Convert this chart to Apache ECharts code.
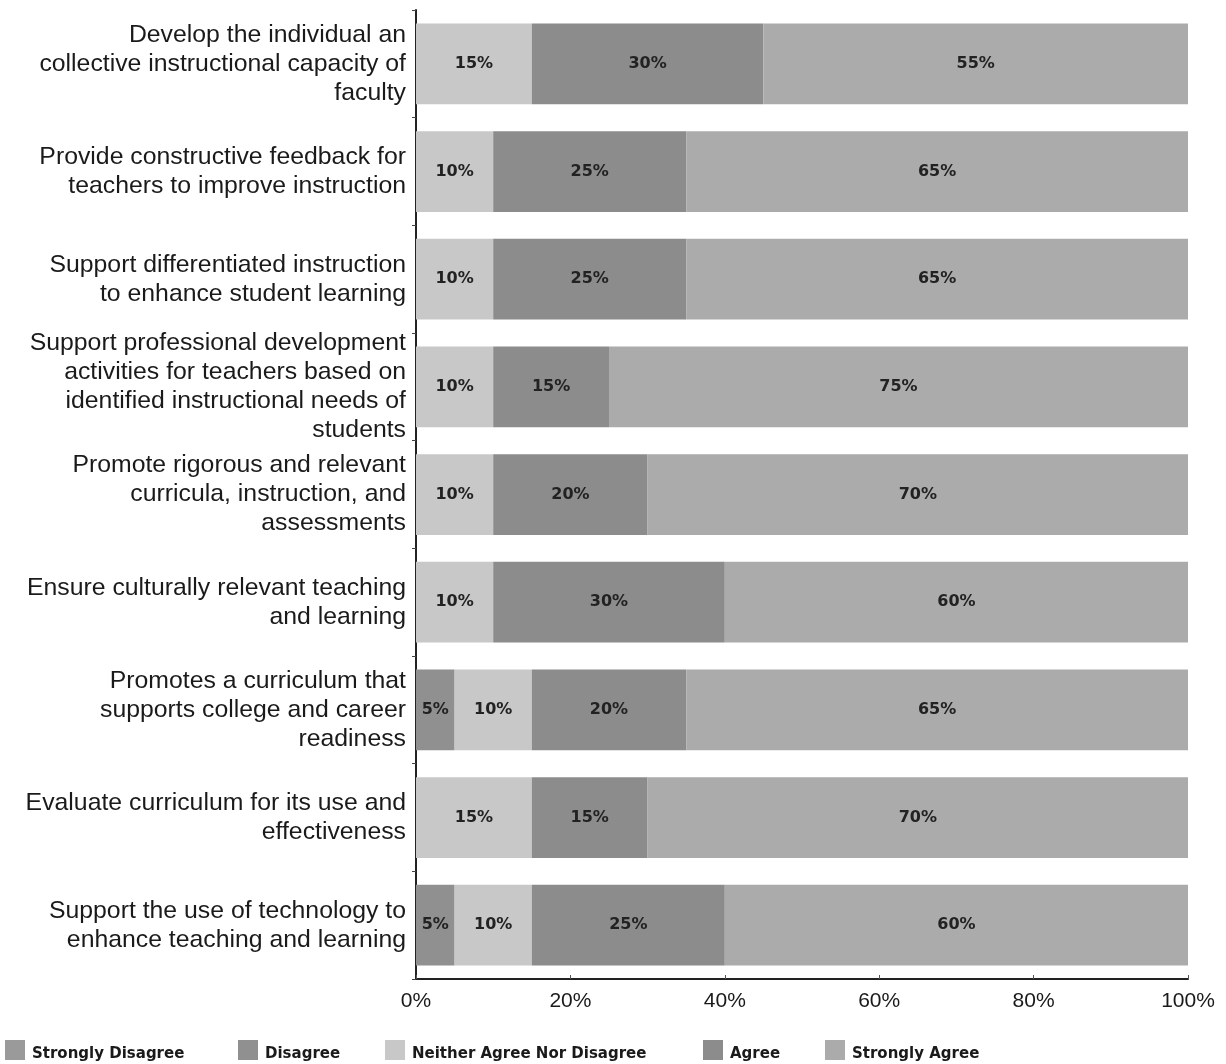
<!DOCTYPE html>
<html>
<head>
<meta charset="utf-8">
<script src="https://cdn.jsdelivr.net/npm/echarts@6/dist/echarts.min.js"></script>
<style>
  html, body { margin: 0; padding: 0; background: #fff; }
  #chart { width: 1226px; height: 1064px; }
</style>
</head>
<body>
<div id="chart"></div>
<script>
// Survey statements, top to bottom
const categories = [
  'Develop the individual an\ncollective instructional capacity of\nfaculty',
  'Provide constructive feedback for\nteachers to improve instruction',
  'Support differentiated instruction\nto enhance student learning',
  'Support professional development\nactivities for teachers based on\nidentified instructional needs of\nstudents',
  'Promote rigorous and relevant\ncurricula, instruction, and\nassessments',
  'Ensure culturally relevant teaching\nand learning',
  'Promotes a curriculum that\nsupports college and career\nreadiness',
  'Evaluate curriculum for its use and\neffectiveness',
  'Support the use of technology to\nenhance teaching and learning'
];

// Response shares (%) per statement
const stronglyDisagree = [0, 0, 0, 0, 0, 0, 0, 0, 0];
const disagree         = [0, 0, 0, 0, 0, 0, 5, 0, 5];
const neither          = [15, 10, 10, 10, 10, 10, 10, 15, 10];
const agree            = [30, 25, 25, 15, 20, 30, 20, 15, 25];
const stronglyAgree    = [55, 65, 65, 75, 70, 60, 65, 70, 60];

const xTicks = [0, 20, 40, 60, 80, 100];

const seriesDefs = [
  { name: 'Strongly Disagree', data: stronglyDisagree, color: '#9a9a9a' },
  { name: 'Disagree', data: disagree, color: '#909090' },
  { name: 'Neither Agree Nor Disagree', data: neither, color: '#c8c8c8' },
  { name: 'Agree', data: agree, color: '#8c8c8c' },
  { name: 'Strongly Agree', data: stronglyAgree, color: '#ababab' }
];

// One legend entry per block so each sits where it belongs along the bottom row
const legendLefts = [5, 238, 385, 703, 825];

const chart = echarts.init(document.getElementById('chart'), null, { renderer: 'canvas' });

const option = {
  animation: false,
  backgroundColor: '#ffffff',
  grid: { left: 416, right: 38, top: 10, bottom: 85, containLabel: false },
  xAxis: {
    type: 'value',
    min: 0,
    max: 100,
    interval: 20,
    axisLine: { show: true, lineStyle: { color: '#222', width: 2 } },
    axisTick: { show: true, inside: true, length: 4, lineStyle: { color: '#555' } },
    splitLine: { show: false },
    axisLabel: {
      margin: 12,
      fontFamily: 'Liberation Sans, Arial, sans-serif',
      fontSize: 21,
      color: '#1a1a1a',
      formatter: v => (xTicks.includes(v) ? v + '%' : '')
    }
  },
  yAxis: {
    type: 'category',
    inverse: true,
    data: categories,
    axisLine: { show: true, lineStyle: { color: '#222', width: 2 } },
    axisTick: { show: true, length: 4, lineStyle: { color: '#444' } },
    axisLabel: {
      margin: 10,
      fontFamily: 'Liberation Sans, Arial, sans-serif',
      fontSize: 24.8,
      lineHeight: 29,
      color: '#1a1a1a',
      align: 'right'
    }
  },
  legend: seriesDefs.map((s, i) => ({
    data: [s.name],
    left: legendLefts[i],
    top: 1040,
    padding: 0,
    itemWidth: 20,
    itemHeight: 20,
    icon: 'rect',
    selectedMode: false,
    formatter: n => '{t|' + n + '}',
    textStyle: {
      rich: {
        t: {
          fontFamily: 'DejaVu Sans, Verdana, sans-serif',
          fontWeight: 'bold',
          fontSize: 15,
          color: '#1a1a1a',
          padding: [8, 0, 0, 2]
        }
      }
    }
  })),
  series: seriesDefs.map(s => ({
    name: s.name,
    type: 'bar',
    stack: 'total',
    barCategoryGap: '25%',
    data: s.data,
    itemStyle: { color: s.color },
    label: {
      show: true,
      position: 'inside',
      fontFamily: 'DejaVu Sans, Verdana, sans-serif',
      fontWeight: 'bold',
      fontSize: 16,
      color: '#222',
      formatter: p => (p.value > 0 ? p.value + '%' : '')
    }
  }))
};

chart.setOption(option);
</script>
</body>
</html>
